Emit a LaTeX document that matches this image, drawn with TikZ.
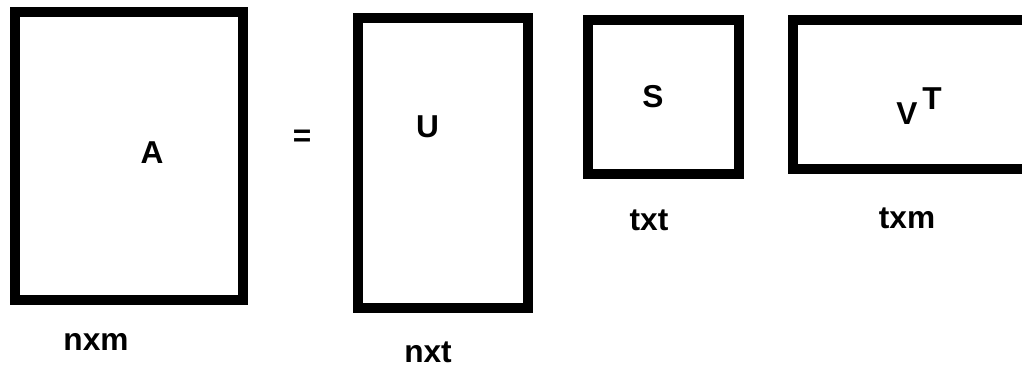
\documentclass[tikz,border=0pt]{standalone}
\usepackage{fontspec}
\setmainfont{Liberation Sans}
\begin{document}
\begin{tikzpicture}[x=0.01cm,y=-0.01cm,
  mat/.style={draw=black,line width=0.1cm,rectangle,inner sep=0pt,outer sep=0pt},
  lbl/.style={inner sep=0pt,font=\fontsize{9}{11}\selectfont\bfseries}]
\useasboundingbox (0,0) rectangle (1022,368);
\clip (0,0) rectangle (1022,368);
\fill[white] (0,0) rectangle (1022,368);
% matrices
\node[mat,minimum width=2.28cm,minimum height=2.88cm] (boxA) at (129,156) {};
\node[mat,minimum width=1.70cm,minimum height=2.90cm] (boxU) at (443,163) {};
\node[mat,minimum width=1.51cm,minimum height=1.54cm] (boxS) at (663.5,97) {};
\node[mat,minimum width=2.40cm,minimum height=1.49cm] (boxV) at (913,94.5) {};
% letters
\node[lbl] (A) at (152,153) {A};
\node[lbl] (eq) at (302,138) {=};
\node[lbl] (U) at (427.5,127) {U};
\node[lbl] (S) at (653,97) {S};
\node[lbl] (V) at (907,114) {V};
\node[lbl] (T) at (932,99) {T};
% dimensions
\node[lbl] (dA) at (96,342) {nxm};
\node[lbl] (dU) at (428,352) {nxt};
\node[lbl] (dS) at (649,220) {txt};
\node[lbl] (dV) at (907,218) {txm};
\end{tikzpicture}
\end{document}
